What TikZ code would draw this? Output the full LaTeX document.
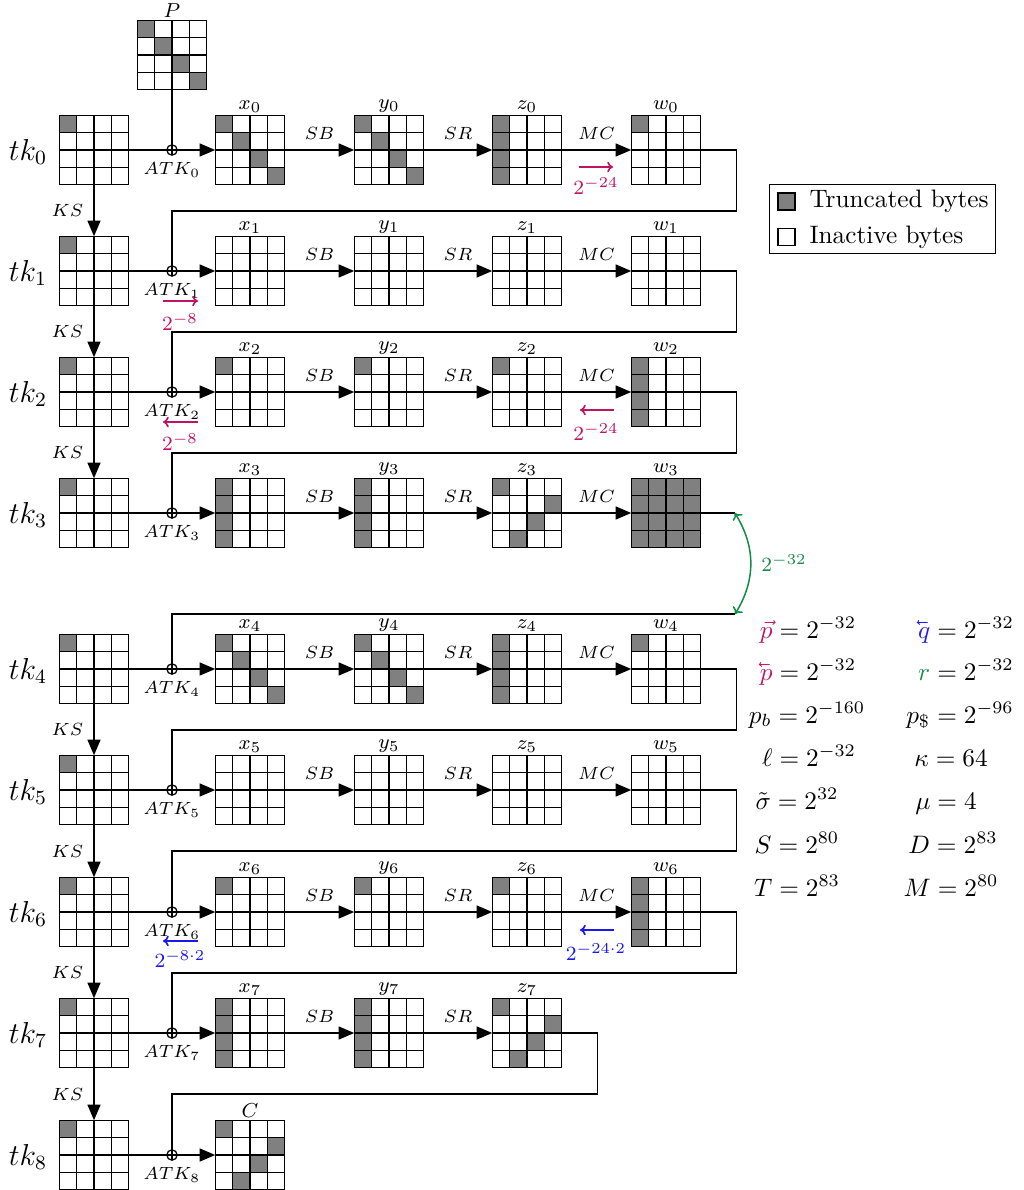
\documentclass[tikz,border=0pt]{standalone}
\usepackage{graphicx}
\usetikzlibrary{arrows.meta,calc}
\definecolor{qgray}{RGB}{128,128,128}
\definecolor{cmag}{RGB}{190,20,100}
\definecolor{cblue}{RGB}{25,25,235}
\definecolor{cgreen}{RGB}{20,140,70}
\newcommand\lvec[1]{\reflectbox{$\vec{\reflectbox{$#1$}}$}}
\tikzset{
 qnode/.style={draw, line width=0.5pt, minimum size=27.56pt, inner sep=0pt, outer sep=0pt},
 qline/.style={line width=0.5pt},
 wire/.style={line width=0.5pt},
 flow/.style={line width=0.5pt, -{Triangle[length=6.2pt,width=5.2pt]}},
 xorn/.style={circle, draw, line width=0.5pt, minimum size=4.1pt, inner sep=0pt, outer sep=0pt,
   path picture={\draw[line width=0.5pt] (path picture bounding box.north) -- (path picture bounding box.south)
   (path picture bounding box.west) -- (path picture bounding box.east);}},
 oplabel/.style={font=\scriptsize, inner sep=1pt},
 namelabel/.style={font=\footnotesize, inner sep=1pt},
 tklabel/.style={font=\large, inner sep=0pt},
 clabel/.style={font=\footnotesize, inner sep=0pt},
 annot/.style={line width=0.65pt, -{To[length=2.3pt,width=4.2pt]}},
 garrow/.style={line width=0.6pt, cgreen, {To[length=2.4pt,width=4.6pt]}-{To[length=2.4pt,width=4.6pt]}},
 eqn/.style={anchor=base, inner sep=0pt},
}
% grid: name, center x, center y, shaded cells r/c
\newcommand\qgrid[4]{%
  \node[qnode] (#1) at (#2,#3) {};
  \if\relax\detokenize{#4}\relax\else
  \foreach \qr/\qc in {#4}{\fill[qgray] ($(#1.north west)+(\qc*17.4,\qr*17.4)$) rectangle ++(17.4,17.4);}
  \fi
  \foreach \qi in {1,2,3}{\draw[qline] ($(#1.north west)+(\qi*17.4,0)$) -- ++(0,69.6);
    \draw[qline] ($(#1.north west)+(0,\qi*17.4)$) -- ++(69.6,0);}
  \draw[qline] (#1.north west) rectangle (#1.south east);
}
\newcommand\qrowA[4]{% i, y, x pattern, x label
  \qgrid{tk#1}{94}{#2}{0/0}
  \node[tklabel] (tkl#1) at (28,#2+2) {$tk_{#1}$};
  \node[xorn] (xor#1) at (172,#2) {};
  \node[oplabel] (atk#1) at (172,#2+20) {$ATK_{#1}$};
  \qgrid{x#1}{250}{#2}{#3}
  \node[namelabel,anchor=south] (lx#1) at (x#1.north) {$#4$};
  \draw[wire] (tk#1.east) -- (xor#1);
  \draw[flow] (xor#1) -- (x#1.west);
}
\newcommand\qrowB[3]{%
  \qgrid{y#1}{389}{#2}{#3}
  \node[namelabel,anchor=south] (ly#1) at (y#1.north) {$y_{#1}$};
  \draw[flow] (x#1.east) -- node[oplabel,above=3pt] (sb#1) {$SB$} (y#1.west);
}
\newcommand\qrowC[3]{%
  \qgrid{z#1}{527}{#2}{#3}
  \node[namelabel,anchor=south] (lz#1) at (z#1.north) {$z_{#1}$};
  \draw[flow] (y#1.east) -- node[oplabel,above=3pt] (sr#1) {$SR$} (z#1.west);
}
\newcommand\qrowD[3]{%
  \qgrid{w#1}{666}{#2}{#3}
  \node[namelabel,anchor=south] (lw#1) at (w#1.north) {$w_{#1}$};
  \draw[flow] (z#1.east) -- node[oplabel,above=3pt] (mc#1) {$MC$} (w#1.west);
}
\begin{document}
\begin{tikzpicture}[x=0.396pt,y=-0.396pt]
\useasboundingbox (0,0) rectangle (1023,1190);

% plaintext P
\qgrid{P}{172}{55}{0/0,1/1,2/2,3/3}
\node[namelabel,anchor=south] (lP) at (P.north) {$P$};

% row 0
\qrowA{0}{150}{0/0,1/1,2/2,3/3}{x_{0}}
\qrowB{0}{150}{0/0,1/1,2/2,3/3}
\qrowC{0}{150}{0/0,1/0,2/0,3/0}
\qrowD{0}{150}{0/0}
\draw[wire] (P.south) -- (xor0);
% row 1
\qrowA{1}{271}{}{x_{1}}
\qrowB{1}{271}{}
\qrowC{1}{271}{}
\qrowD{1}{271}{}
% row 2
\qrowA{2}{392}{0/0}{x_{2}}
\qrowB{2}{392}{0/0}
\qrowC{2}{392}{0/0}
\qrowD{2}{392}{0/0,1/0,2/0,3/0}
% row 3
\qrowA{3}{513}{0/0,1/0,2/0,3/0}{x_{3}}
\qrowB{3}{513}{0/0,1/0,2/0,3/0}
\qrowC{3}{513}{0/0,1/3,2/2,3/1}
\qrowD{3}{513}{0/0,0/1,0/2,0/3,1/0,1/1,1/2,1/3,2/0,2/1,2/2,2/3,3/0,3/1,3/2,3/3}
% row 4
\qrowA{4}{669}{0/0,1/1,2/2,3/3}{x_{4}}
\qrowB{4}{669}{0/0,1/1,2/2,3/3}
\qrowC{4}{669}{0/0,1/0,2/0,3/0}
\qrowD{4}{669}{0/0}
% row 5
\qrowA{5}{790}{}{x_{5}}
\qrowB{5}{790}{}
\qrowC{5}{790}{}
\qrowD{5}{790}{}
% row 6
\qrowA{6}{912}{0/0}{x_{6}}
\qrowB{6}{912}{0/0}
\qrowC{6}{912}{0/0}
\qrowD{6}{912}{0/0,1/0,2/0,3/0}
% row 7
\qrowA{7}{1033}{0/0,1/0,2/0,3/0}{x_{7}}
\qrowB{7}{1033}{0/0,1/0,2/0,3/0}
\qrowC{7}{1033}{0/0,1/3,2/2,3/1}
% row 8
\qrowA{8}{1155}{0/0,1/3,2/2,3/1}{C}

% key schedule
\draw[flow] (tk0.south) -- node[oplabel,left=3pt] (ks0) {$KS$} (tk1.north);
\draw[flow] (tk1.south) -- node[oplabel,left=3pt] (ks1) {$KS$} (tk2.north);
\draw[flow] (tk2.south) -- node[oplabel,left=3pt] (ks2) {$KS$} (tk3.north);
\draw[flow] (tk4.south) -- node[oplabel,left=3pt] (ks4) {$KS$} (tk5.north);
\draw[flow] (tk5.south) -- node[oplabel,left=3pt] (ks5) {$KS$} (tk6.north);
\draw[flow] (tk6.south) -- node[oplabel,left=3pt] (ks6) {$KS$} (tk7.north);
\draw[flow] (tk7.south) -- node[oplabel,left=3pt] (ks7) {$KS$} (tk8.north);

% wires between rounds
\draw[wire] (w0.east) -- ++(36,0) -- ++(0,61) -| (xor1);
\draw[wire] (w1.east) -- ++(36,0) -- ++(0,61) -| (xor2);
\draw[wire] (w2.east) -- ++(36,0) -- ++(0,61) -| (xor3);
\draw[wire] (w3.east) -- ++(34,0) coordinate (g1);
\coordinate (g2) at (735,614);
\draw[wire] (g2) -| (xor4);
\draw[garrow] (g1) to[bend left=32] node[right=4pt, clabel, text=cgreen] (gl) {$2^{-32}$} (g2);
\draw[wire] (w4.east) -- ++(36,0) -- ++(0,61) -| (xor5);
\draw[wire] (w5.east) -- ++(36,0) -- ++(0,61) -| (xor6);
\draw[wire] (w6.east) -- ++(36,0) -- ++(0,61) -| (xor7);
\draw[wire] (z7.east) -- ++(36,0) -- ++(0,61) -| (xor8);

% differential annotations
\draw[annot, cmag] (579,167) coordinate (a0s) -- (613,167) coordinate (a0e);
\node[clabel, text=cmag] (a0l) at (596,186) {$2^{-24}$};
\draw[annot, cmag] (163,301) coordinate (a1s) -- (198,301) coordinate (a1e);
\node[clabel, text=cmag] (a1l) at (180,322) {$2^{-8}$};
\draw[annot, cmag] (198,422) coordinate (a2s) -- (163,422) coordinate (a2e);
\node[clabel, text=cmag] (a2l) at (180,442) {$2^{-8}$};
\draw[annot, cmag] (614,410) coordinate (a3s) -- (580,410) coordinate (a3e);
\node[clabel, text=cmag] (a3l) at (596,432) {$2^{-24}$};
\draw[annot, cblue] (198,941) coordinate (a4s) -- (163,941) coordinate (a4e);
\node[clabel, text=cblue] (a4l) at (180,959) {$2^{-8\cdot 2}$};
\draw[annot, cblue] (614,930) coordinate (a5s) -- (580,930) coordinate (a5e);
\node[clabel, text=cblue] (a5l) at (596,952) {$2^{-24\cdot 2}$};

% legend
\node[draw, line width=0.5pt, minimum width=89.5pt, minimum height=27.3pt, inner sep=0pt, anchor=north west] (legend) at (769,184) {};
\node[draw, line width=0.5pt, fill=qgray, minimum size=6.7pt, inner sep=0pt] (lg1) at (786.5,201.5) {};
\node[anchor=west, inner sep=0pt] (lt1) at (809,201) {Truncated bytes};
\node[draw, line width=0.5pt, fill=white, minimum size=6.7pt, inner sep=0pt] (lg2) at (786.5,237) {};
\node[anchor=west, inner sep=0pt] (lt2) at (809,237) {Inactive bytes};

% parameters
\node[eqn] (e1) at (808,638) {$\textcolor{cmag}{\vec{p}} = 2^{-32}$};
\node[eqn] (e2) at (808,680) {$\textcolor{cmag}{\lvec{p}} = 2^{-32}$};
\node[eqn] (e3) at (807,723) {$p_b = 2^{-160}$};
\node[eqn] (e4) at (809,766) {$\ell = 2^{-32}$};
\node[eqn] (e5) at (797,809) {$\tilde{\sigma} = 2^{32}$};
\node[eqn] (e6) at (797,853) {$S = 2^{80}$};
\node[eqn] (e7) at (797,896) {$T = 2^{83}$};
\node[eqn] (f1) at (966,638) {$\textcolor{cblue}{\lvec{q}} = 2^{-32}$};
\node[eqn] (f2) at (966,680) {$\textcolor{cgreen}{r} = 2^{-32}$};
\node[eqn] (f3) at (960,723) {$p_{\$} = 2^{-96}$};
\node[eqn] (f4) at (951,766) {$\kappa = 64$};
\node[eqn] (f5) at (946,809) {$\mu = 4$};
\node[eqn] (f6) at (953,853) {$D = 2^{83}$};
\node[eqn] (f7) at (951,896) {$M = 2^{80}$};
\end{tikzpicture}
\end{document}
